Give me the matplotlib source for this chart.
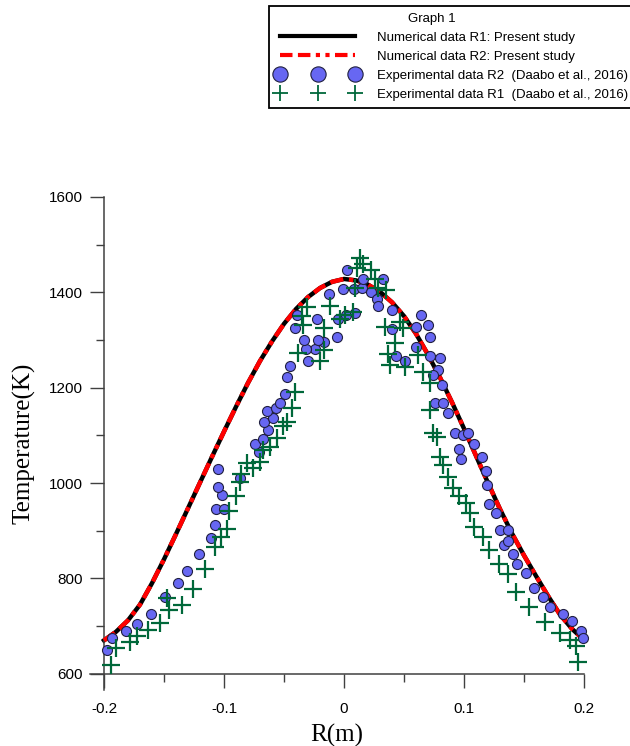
import matplotlib.pyplot as plt
from matplotlib.lines import Line2D
from matplotlib.ticker import MultipleLocator

# Numerical data (R1 a R2 sa takmer prekryvaju)
r_num = [-0.20, -0.19, -0.18, -0.17, -0.16, -0.15, -0.14, -0.13, -0.12, -0.11,
         -0.10, -0.09, -0.08, -0.07, -0.06, -0.05, -0.04, -0.03, -0.02, -0.01,
         0.00, 0.01, 0.02, 0.03, 0.04, 0.05, 0.06, 0.07, 0.08, 0.09,
         0.10, 0.11, 0.12, 0.13, 0.14, 0.15, 0.16, 0.17, 0.18, 0.19, 0.196]
t_num_r1 = [670, 688, 712, 745, 790, 840, 893, 947, 1001, 1055,
            1108, 1160, 1210, 1256, 1297, 1334, 1365, 1390, 1409, 1422,
            1428, 1425, 1416, 1401, 1379, 1350, 1313, 1269, 1221, 1169,
            1114, 1057, 1000, 945, 894, 848, 805, 763, 724, 694, 680]
t_num_r2 = [670, 688, 712, 745, 790, 840, 893, 947, 1001, 1055,
            1108, 1160, 1210, 1256, 1297, 1334, 1365, 1390, 1409, 1422,
            1428, 1425, 1416, 1401, 1379, 1350, 1313, 1269, 1221, 1169,
            1114, 1057, 1000, 945, 894, 848, 805, 763, 724, 694, 680]

# Experimental data R2 (Daabo et al., 2016) - kruzky
r_exp_r2 = [-0.1975, -0.1933, -0.1817, -0.1725, -0.1608, -0.1492, -0.1383, -0.1308, -0.1208, -0.1108,
            -0.1075, -0.1067, -0.1000, -0.1017, -0.1050, -0.1050, -0.0867, -0.0708, -0.0742, -0.0675,
            -0.0633, -0.0667, -0.0592, -0.0642, -0.0567, -0.0533, -0.0492, -0.0475, -0.0450, -0.0300,
            -0.0242, -0.0317, -0.0333, -0.0167, -0.0217, -0.0058, -0.0408, -0.0392, -0.0225, -0.0050,
            0.0017, 0.0092, -0.0125, -0.0008, 0.0083, 0.0025, 0.0150, 0.0158, 0.0225, 0.0275,
            0.0283, 0.0325, 0.0400, 0.0642, 0.0700, 0.0600, 0.0600, 0.0400, 0.0717, 0.0717,
            0.0433, 0.0508, 0.0800, 0.0783, 0.0742, 0.0817, 0.0758, 0.0825, 0.0867, 0.0925,
            0.0992, 0.1033, 0.1083, 0.0958, 0.0975, 0.1150, 0.1183, 0.1192, 0.1208, 0.1267,
            0.1300, 0.1367, 0.1333, 0.1367, 0.1408, 0.1442, 0.1517, 0.1583, 0.1658, 0.1717,
            0.1825, 0.1900, 0.1975, 0.1992]
t_exp_r2 = [650, 675, 690, 705, 726, 761, 791, 816, 851, 885,
            912, 946, 946, 975, 992, 1029, 1010, 1065, 1082, 1092,
            1111, 1128, 1136, 1151, 1157, 1167, 1186, 1222, 1245, 1255,
            1281, 1281, 1301, 1295, 1301, 1306, 1325, 1352, 1345, 1345,
            1352, 1356, 1396, 1406, 1406, 1446, 1410, 1427, 1400, 1385,
            1371, 1427, 1362, 1352, 1331, 1327, 1285, 1322, 1306, 1266,
            1266, 1255, 1262, 1237, 1226, 1205, 1167, 1167, 1147, 1105,
            1100, 1105, 1082, 1071, 1050, 1054, 1025, 996, 956, 937,
            902, 902, 870, 879, 851, 830, 811, 780, 761, 740,
            726, 711, 690, 675]

# Experimental data R1 (Daabo et al., 2016) - krizky
r_exp_r1 = [-0.1942, -0.1900, -0.1783, -0.1725, -0.1633, -0.1533, -0.1458, -0.1350, -0.1475, -0.1258,
            -0.1158, -0.1075, -0.1025, -0.0975, -0.0958, -0.0900, -0.0867, -0.0858, -0.0808, -0.0758,
            -0.0700, -0.0675, -0.0617, -0.0558, -0.0508, -0.0475, -0.0433, -0.0408, -0.0383, -0.0200,
            -0.0167, -0.0342, -0.0350, -0.0308, -0.0117, 0.0008, -0.0167, -0.0033, 0.0133, 0.0158,
            0.0108, 0.0225, 0.0258, 0.0283, 0.0350, 0.0092, 0.0075, 0.0342, 0.0467, 0.0492,
            0.0425, 0.0367, 0.0383, 0.0508, 0.0617, 0.0658, 0.0717, 0.0717, 0.0742, 0.0775,
            0.0800, 0.0825, 0.0867, 0.0908, 0.0958, 0.1017, 0.1050, 0.1083, 0.1158, 0.1208,
            0.1292, 0.1367, 0.1433, 0.1542, 0.1675, 0.1800, 0.1883, 0.1933, 0.1950]
t_exp_r1 = [619, 654, 667, 680, 692, 707, 734, 744, 759, 778,
            820, 866, 887, 904, 941, 973, 1002, 1019, 1042, 1031,
            1044, 1069, 1075, 1094, 1119, 1128, 1157, 1191, 1272, 1255,
            1278, 1331, 1350, 1369, 1371, 1352, 1325, 1343, 1471, 1459,
            1450, 1446, 1427, 1410, 1404, 1408, 1358, 1327, 1337, 1325,
            1293, 1270, 1247, 1243, 1268, 1232, 1209, 1153, 1105, 1096,
            1054, 1038, 1013, 990, 973, 958, 937, 908, 887, 860,
            830, 809, 772, 740, 709, 686, 671, 659, 625]

x_ticks = [-0.2, -0.1, 0.0, 0.1, 0.2]
x_tick_labels = ['-0.2', '-0.1', '0', '0.1', '0.2']
y_ticks = [600, 800, 1000, 1200, 1400, 1600]

legend_labels = ['Numerical data R1: Present study',
                 'Numerical data R2: Present study',
                 'Experimental data R2  (Daabo et al., 2016)',
                 'Experimental data R1  (Daabo et al., 2016)']

blue = '#6767f2'
green = '#00683a'
red_dash = (0, (3, 1.3, 3, 1.3, 1, 1.3, 1, 1.3))

fig = plt.figure(figsize=(6.3, 7.46), dpi=100)
ax = fig.add_axes([0.1422, 0.0751, 0.7849, 0.6609])

# krivky
ax.plot(r_num, t_num_r1, color='black', lw=3.2, zorder=2)
ax.plot(r_num, t_num_r2, color='#ff0000', lw=3.2, ls=red_dash, zorder=3)

# experimentalne body
ax.scatter(r_exp_r2, t_exp_r2, s=52, color=blue, edgecolors='#202040', linewidths=0.8,
           zorder=4, clip_on=False)
ax.plot(r_exp_r1, t_exp_r1, ls='none', marker='+', ms=13, mew=1.6, color=green,
        zorder=5, clip_on=False)

# osi v style Origin
ax.set_xlim(-0.212, 0.2)
ax.set_ylim(566, 1600)
ax.spines['right'].set_visible(False)
ax.spines['top'].set_visible(False)
ax.spines['left'].set_position(('data', -0.2))
ax.spines['bottom'].set_position(('data', 600))
for s in ['left', 'bottom']:
    ax.spines[s].set_color('#404040')
    ax.spines[s].set_linewidth(1.1)

ax.set_xticks(x_ticks, labels=x_tick_labels)
ax.set_yticks(y_ticks)
ax.xaxis.set_minor_locator(MultipleLocator(0.05))
ax.yaxis.set_minor_locator(MultipleLocator(100))
ax.tick_params(which='major', direction='out', length=10, width=1.0, color='#404040',
               labelsize=11)
ax.tick_params(which='minor', direction='out', length=5.5, width=1.0, color='#404040')
ax.tick_params(axis='x', which='major', pad=10)
ax.tick_params(axis='y', which='major', pad=5)
for lab in ax.get_xticklabels() + ax.get_yticklabels():
    lab.set_fontfamily('Liberation Sans')

ax.set_xlabel('R(m)', fontfamily='Liberation Serif', fontsize=18, labelpad=6)
ax.set_ylabel('Temperature(K)', fontfamily='Liberation Serif', fontsize=18, labelpad=10)

# legenda
handles = [Line2D([], [], color='black', lw=3.0),
           Line2D([], [], color='#ff0000', lw=3.0, ls=red_dash),
           Line2D([], [], ls='none', marker='o', ms=11, mfc=blue, mec='#202040', mew=0.8),
           Line2D([], [], ls='none', marker='+', ms=11, mew=1.3, color=green)]
leg = fig.legend(handles, legend_labels, title='Graph 1' + ' ' * 11, loc='upper left',
                 bbox_to_anchor=(269 / 630, 1 - 6 / 746), numpoints=3,
                 prop={'family': 'Liberation Sans', 'size': 9.5},
                 title_fontproperties={'family': 'Liberation Sans', 'size': 9.5},
                 frameon=True, fancybox=False, edgecolor='black', framealpha=1,
                 handlelength=6.3, handletextpad=1.3, labelspacing=0.5,
                 borderpad=0.55, borderaxespad=0)
leg.get_frame().set_linewidth(1.3)

plt.savefig('out.png', dpi=100)
